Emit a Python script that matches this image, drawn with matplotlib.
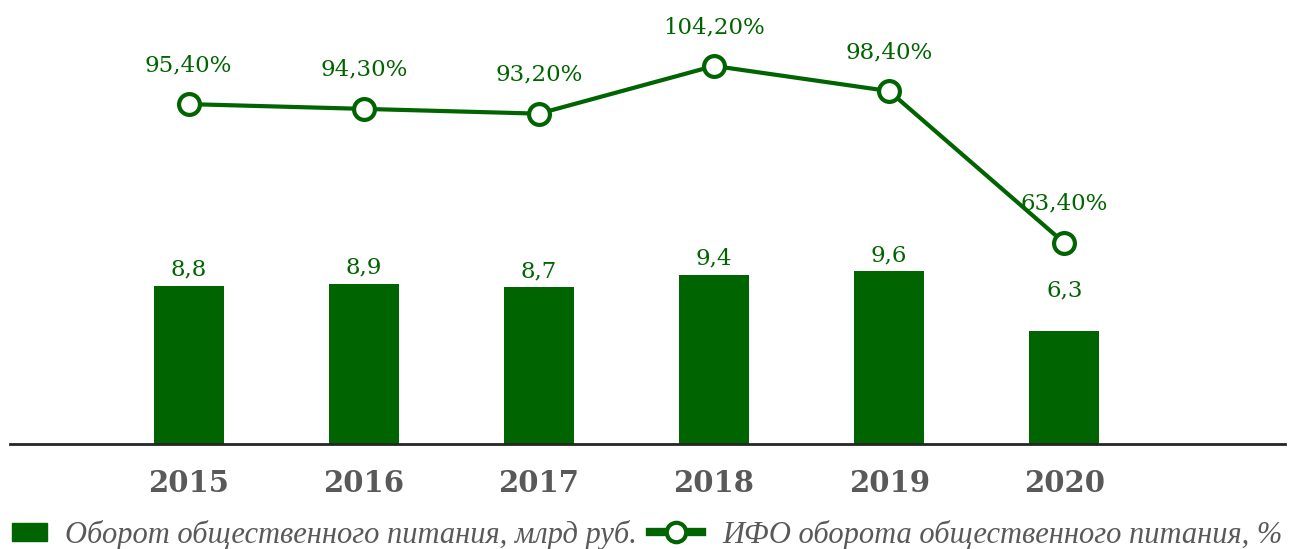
import matplotlib.pyplot as plt
from matplotlib.lines import Line2D
from matplotlib.patches import Patch
import numpy as np

years = ['2015', '2016', '2017', '2018', '2019', '2020']
turnover = [8.8, 8.9, 8.7, 9.4, 9.6, 6.3]
turnover_labels = ['8,8', '8,9', '8,7', '9,4', '9,6', '6,3']
index_pct = [95.4, 94.3, 93.2, 104.2, 98.4, 63.4]
index_labels = ['95,40%', '94,30%', '93,20%', '104,20%', '98,40%', '63,40%']

GREEN = '#006400'
GREY = '#595959'
SERIF = ['DejaVu Serif']
LEG_FONT = {'family': ['Liberation Serif', 'DejaVu Serif'], 'style': 'italic', 'size': 22}

W, H = 1296, 549
fig = plt.figure(figsize=(W / 100, H / 100), dpi=100)
# axes spans from x=10 to 1285 px, y from 444 px (bottom) to top edge
ax = fig.add_axes([10 / W, 1 - 444 / H, 1275 / W, 444 / H])
x = np.arange(len(years))

ax.bar(x, turnover, width=0.4, color=GREEN, zorder=2)
ax.set_xlim(-1.02, 6.26)
ax.set_ylim(0, 24.67)

for i, v in enumerate(turnover):
    off = 16 if i < 5 else 40
    ax.annotate(turnover_labels[i], (x[i], v), xytext=(0, off), textcoords='offset pixels',
                ha='center', va='center', color=GREEN, fontsize=16.5, family=SERIF)

ax2 = ax.twinx()
ax2.plot(x, index_pct, color=GREEN, lw=3, marker='o', markersize=15,
         markerfacecolor='white', markeredgecolor=GREEN, markeredgewidth=3, zorder=3)
ax2.set_ylim(17.05, 119.4)
for i, v in enumerate(index_pct):
    ax2.annotate(index_labels[i], (x[i], v), xytext=(0, 39), textcoords='offset pixels',
                 ha='center', va='center', color=GREEN, fontsize=16.5, family=SERIF)

for a in (ax, ax2):
    for s in ('top', 'right', 'left'):
        a.spines[s].set_visible(False)
    a.set_yticks([])
ax.spines['bottom'].set_color('#262626')
ax.spines['bottom'].set_linewidth(2)
ax2.spines['bottom'].set_visible(False)

ax.set_xticks(x)
ax.set_xticklabels(years, fontsize=21, fontweight='bold', color=GREY, family=SERIF)
ax.tick_params(axis='x', length=0, pad=18)

bar_handle = Patch(facecolor=GREEN, edgecolor=GREEN)
line_handle = Line2D([], [], color=GREEN, lw=6, marker='o', markersize=14,
                     markerfacecolor='white', markeredgecolor=GREEN, markeredgewidth=3)

leg_y = 1 - 535 / H
fig.legend([bar_handle], ['Оборот общественного питания, млрд руб.'],
           loc='center left', bbox_to_anchor=(12 / W, leg_y), frameon=False,
           borderpad=0, borderaxespad=0, handlelength=1.15, handleheight=0.5,
           handletextpad=0.58, prop=LEG_FONT, labelcolor=GREY)
fig.legend([line_handle], ['ИФО оборота общественного питания, %'],
           loc='center left', bbox_to_anchor=(650 / W, leg_y), frameon=False,
           borderpad=0, borderaxespad=0, handlelength=1.7,
           handletextpad=0.68, prop=LEG_FONT, labelcolor=GREY)

fig.savefig('out.png', dpi=100)
